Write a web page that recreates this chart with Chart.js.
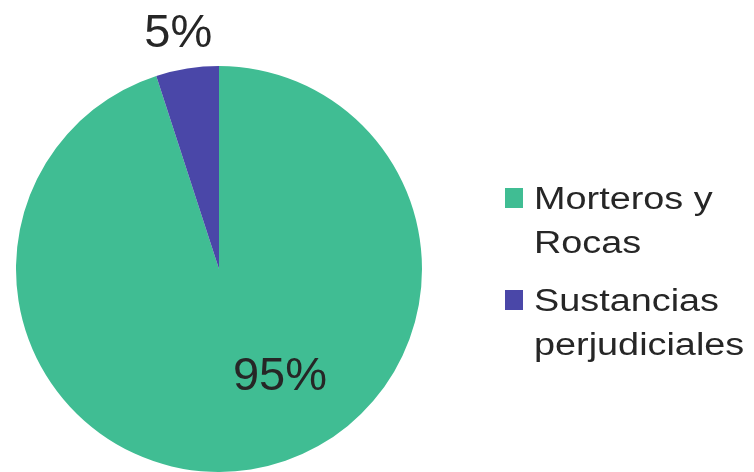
<!DOCTYPE html>
<html>
<head>
<meta charset="utf-8">
<script src="https://cdn.jsdelivr.net/npm/chart.js@4"></script>
<style>
  html, body { margin:0; padding:0; background:#fff; }
  #wrap { width:754px; height:472px; position:relative; }
</style>
</head>
<body>
<div id="wrap"><canvas id="pie" width="754" height="472"></canvas></div>
<script>
const categories = [['Morteros y', 'Rocas'], ['Sustancias', 'perjudiciales']];
const values = [95, 5];
const colors = ['#40bd93', '#4a47a8'];

// percentage labels: 5% outside above the slice, 95% inside lower right
const pctLabels = {
  id: 'pctLabels',
  afterDatasetsDraw(chart){
    const ctx = chart.ctx;
    const arcs = chart.getDatasetMeta(0).data;
    const total = values.reduce((s,v)=>s+v,0);
    ctx.save();
    ctx.font = '47px "Liberation Sans", Arial, sans-serif';
    ctx.fillStyle = '#262626';
    ctx.textAlign = 'center';
    ctx.textBaseline = 'middle';
    arcs.forEach((a,i)=>{
      let ang, d;
      if (i === 0){ ang = Math.PI * 60.5/180; d = a.outerRadius * 0.61; }
      else { ang = (a.startAngle + a.endAngle)/2 - 0.015; d = a.outerRadius + 35; }
      const x = a.x + Math.cos(ang)*d;
      const y = a.y + Math.sin(ang)*d;
      ctx.fillText(Math.round(values[i]/total*100) + '%', x, y);
    });
    ctx.restore();
  }
};

// legend on the right with wrapped labels
const sideLegend = {
  id: 'sideLegend',
  afterDraw(chart){
    const ctx = chart.ctx;
    const x0 = 505, tops = [188, 290];
    ctx.save();
    categories.forEach((lines,i)=>{
      ctx.fillStyle = colors[i];
      ctx.fillRect(x0, tops[i], 18, 20);
      ctx.fillStyle = '#262626';
      ctx.font = '31px "Liberation Sans", Arial, sans-serif';
      ctx.textBaseline = 'alphabetic';
      lines.forEach((t,j)=>{
        ctx.save();
        ctx.translate(534, tops[i] + 21 + j*44);
        ctx.scale(1.22, 1);
        ctx.fillText(t, 0, 0);
        ctx.restore();
      });
    });
    ctx.restore();
  }
};

new Chart(document.getElementById('pie').getContext('2d'), {
  type: 'pie',
  data: {
    labels: categories.map(c=>c.join(' ')),
    datasets: [{ data: values, backgroundColor: colors, borderWidth: 0 }]
  },
  options: {
    responsive: false,
    animation: false,
    layout: { padding: { left: 16, right: 332, top: 66, bottom: 0 } },
    plugins: { legend: { display: false }, tooltip: { enabled: false } }
  },
  plugins: [pctLabels, sideLegend]
});
</script>
</body>
</html>
